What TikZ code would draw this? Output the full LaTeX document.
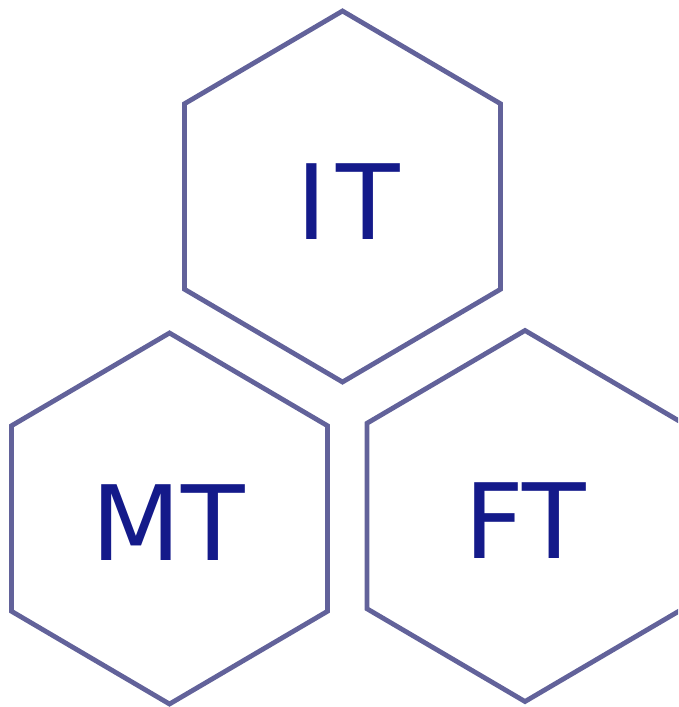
\documentclass[tikz,border=0pt]{standalone}
\usepackage{fontspec}
\setmainfont{DejaVu Sans}
\definecolor{hexline}{HTML}{62629A}
\definecolor{hextext}{HTML}{141A8A}
\tikzset{
  hexedge/.style={draw=hexline, line width=4.8pt, line join=miter},
  hexlabel/.style={text=hextext, font=\fontsize{104}{120}\selectfont, inner sep=0pt, anchor=base}
}
\newcommand\myhex[2]{%
  \draw[hexedge] (#1,#2) ++(0,185.5) -- ++(158,-92.75) -- ++(0,-185.5) -- ++(-158,-92.75) -- ++(-158,92.75) -- ++(0,185.5) -- cycle;}
\begin{document}
\begin{tikzpicture}[x=1pt,y=1pt]
  \useasboundingbox (0,0) rectangle (678,-707);
  \clip (0,0) rectangle (678,-707);
  \myhex{342.5}{-196.5}
  \myhex{169.5}{-518.5}
  \myhex{525}{-516}
  \node[hexlabel] (it) at (348,-239) {I\kern9pt T};
  \node[hexlabel] (mt) at (168.5,-560) {MT};
  \node[hexlabel] (ft) at (525,-558) {FT};
\end{tikzpicture}
\end{document}
